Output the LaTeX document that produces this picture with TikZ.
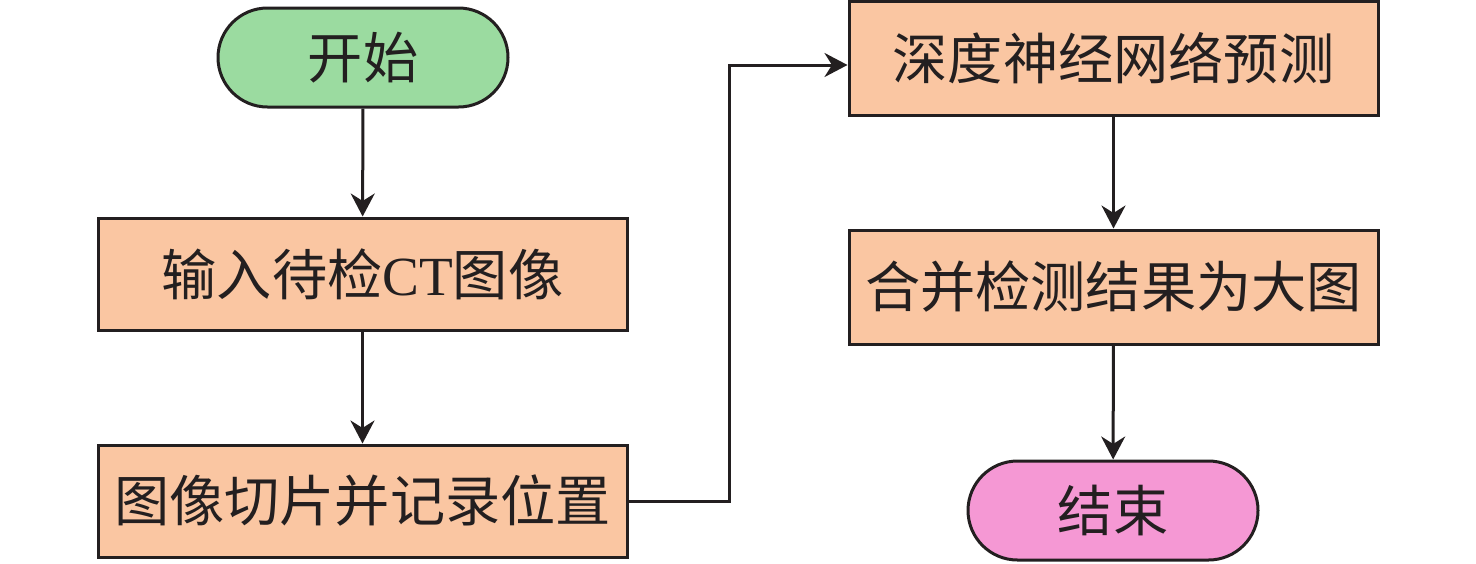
\documentclass[tikz,border=0pt]{standalone}
\usepackage{fontspec}
\setmainfont{Liberation Serif}
\newfontfamily\cjk{Noto Sans CJK SC}
\usepackage{tikz}
\usetikzlibrary{shapes.misc,arrows.meta}
\definecolor{inkc}{HTML}{231F20}
\definecolor{stepc}{HTML}{FAC6A2}
\definecolor{startc}{HTML}{9BDBA0}
\definecolor{endc}{HTML}{F598D4}
\tikzset{
  box/.style={draw=inkc,line width=1.5pt,fill=stepc,text=inkc,inner sep=0pt,
    minimum width=264.5pt,minimum height=56pt,font=\fontsize{27.6}{30}\selectfont},
  term/.style={box,rounded rectangle,minimum width=145pt,minimum height=49.5pt},
  arr/.style={draw=inkc,line width=1.5pt,-{Stealth[length=11.5pt,width=12pt]}}
}

\begin{document}
\begin{tikzpicture}[x=0.5pt,y=-0.5pt]
\useasboundingbox (0,0) rectangle (1476,563);
\node[term,fill=startc] (start) at (363,57.5) {\cjk 开始};
\node[box] (input) at (362.5,274) {{\cjk 输入待检}CT{\cjk 图像}};
\node[box] (slice) at (362.5,501) {\cjk 图像切片并记录位置};
\node[box,minimum height=57pt] (dnn) at (1113.5,58) {\cjk 深度神经网络预测};
\node[box,minimum height=57pt] (merge) at (1113.5,287) {\cjk 合并检测结果为大图};
\node[term,fill=endc] (finish) at (1113,510.5) {\cjk 结束};
\coordinate (turn) at (729,65);
\draw[arr] (start) -- (input);
\draw[arr] (input) -- (slice);
\draw[arr] (slice.east) -| (turn) -- (turn -| dnn.west);
\draw[arr] (dnn) -- (merge);
\draw[arr] (merge) -- (finish);
\end{tikzpicture}
\end{document}
